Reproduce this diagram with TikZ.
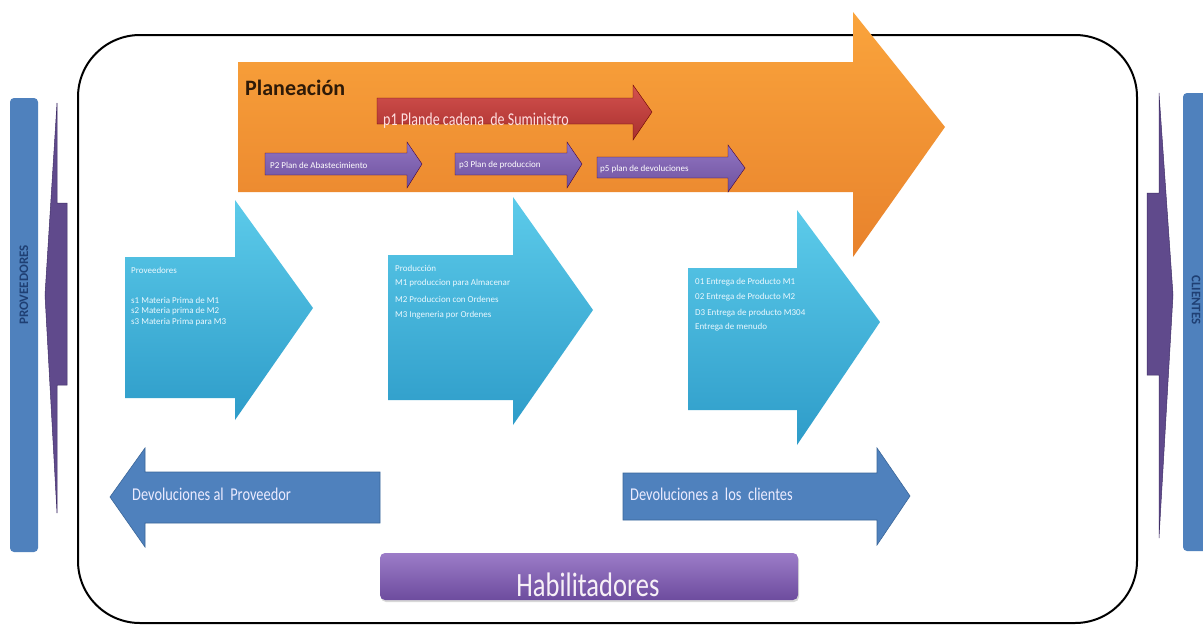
\documentclass[tikz,border=0pt]{standalone}
\usepackage{fontspec}
\setmainfont{Carlito}
\usetikzlibrary{shadows}
\newcommand\squeeze[2]{\scalebox{#1}[1]{#2}}

\definecolor{sideblue}{HTML}{4F81BD}
\definecolor{sideline}{HTML}{3A6699}
\definecolor{sidetext}{HTML}{1F3F73}
\definecolor{sidepurple}{HTML}{604A8C}
\definecolor{sidepurpleline}{HTML}{3F2E66}
\definecolor{orangetop}{HTML}{FAA43C}
\definecolor{orangebot}{HTML}{E8822C}
\definecolor{redtop}{HTML}{D4524F}
\definecolor{redbot}{HTML}{A9302E}
\definecolor{violettop}{HTML}{9175C2}
\definecolor{violetbot}{HTML}{6E519E}
\definecolor{cyantop}{HTML}{5CCBEA}
\definecolor{cyanbot}{HTML}{2E9CC9}
\definecolor{habtop}{HTML}{9C7CC8}
\definecolor{habbot}{HTML}{6D4C9E}
\definecolor{plantext}{HTML}{2E1A08}

\tikzset{
  txt/.style={inner sep=0pt, anchor=west},
  smalltxt/.style={txt, font=\fontsize{9}{10}\selectfont, text=white},
  cyantxt/.style={txt, font=\fontsize{9}{10}\selectfont, text=white!92!cyan},
  orangearrow/.style={top color=orangetop, bottom color=orangebot, draw=none},
  redarrow/.style={top color=redtop, bottom color=redbot, draw=red!40!black, line width=0.4pt},
  violetarrow/.style={top color=violettop, bottom color=violetbot, draw=violet!50!black, line width=0.4pt},
  cyanarrow/.style={top color=cyantop, bottom color=cyanbot, draw=none},
  bluearrow/.style={fill=sideblue, draw=sideline, line width=0.6pt},
  sidebar/.style={fill=sideblue, draw=none, rounded corners=4pt},
  sidearrow/.style={fill=sidepurple, draw=sidepurpleline, line width=0.5pt},
}

\begin{document}
\begin{tikzpicture}[x=1pt,y=-1pt]
  \useasboundingbox (0,0) rectangle (1203,630);
  \fill[white] (0,0) rectangle (1203,630);

  % outer frame of the supply chain
  \draw[line width=2pt, rounded corners=62pt] (78,35) rectangle (1137,623);

  % suppliers side
  \fill[sidebar] (10,98) rectangle (38,552);
  \node[rotate=90, inner sep=0pt, text=sidetext,
        font=\fontsize{13}{14}\bfseries\selectfont] (prov) at (24,285) {PROVEEDORES};
  \filldraw[sidearrow] (45,295) -- (57,103) -- (57,203) -- (67,203)
      -- (67,385) -- (57,385) -- (57,513) -- cycle;

  % customers side
  \fill[sidebar] (1183,93) rectangle (1212,551);
  \node[rotate=-90, inner sep=0pt, text=sidetext,
        font=\fontsize{13}{14}\bfseries\selectfont] (cli) at (1196,300) {CLIENTES};
  \filldraw[sidearrow] (1173,295) -- (1159,93) -- (1159,193) -- (1147,193)
      -- (1147,375) -- (1159,375) -- (1159,538) -- cycle;

  % planning
  \shade[orangearrow] (238,62) -- (853,62) -- (853,12) -- (945,127)
      -- (853,257) -- (853,192) -- (238,192) -- cycle;
  \node[txt, text=plantext, font=\fontsize{22}{24}\bfseries\selectfont] (plan) at (245,88) {Planeación};

  \shade[redarrow] (377,98) -- (633,98) -- (633,85) -- (652,112)
      -- (633,140) -- (633,124) -- (377,124) -- cycle;
  \node[inner sep=0pt, anchor=base west, text=red!12!white,
        font=\fontsize{18}{20}\selectfont] (p1) at (383,125)
        {\squeeze{0.78}{p1 Plande cadena\ \ de Suministro}};

  \shade[violetarrow] (265,153) -- (407,153) -- (407,142) -- (422,164)
      -- (407,188) -- (407,175) -- (265,175) -- cycle;
  \node[smalltxt] (p2) at (270,165) {P2 Plan de Abastecimiento};

  \shade[violetarrow] (455,153) -- (567,153) -- (567,142) -- (582,164)
      -- (567,188) -- (567,175) -- (455,175) -- cycle;
  \node[smalltxt] (p3) at (459,165) {p3 Plan de produccion};

  \shade[violetarrow] (597,157) -- (728,157) -- (728,145) -- (745,168)
      -- (728,192) -- (728,178) -- (597,178) -- cycle;
  \node[smalltxt] (p5) at (600,169) {p5 plan de devoluciones};

  % source
  \shade[cyanarrow] (125,257) -- (235,257) -- (235,200) -- (313,308)
      -- (235,420) -- (235,398) -- (125,398) -- cycle;
  \node[cyantxt] (s0) at (131,270) {Proveedores};
  \node[cyantxt] (s1) at (131,300) {s1 Materia\ Prima\ de\ M1};
  \node[cyantxt] (s2) at (131,311) {s2 Materia\ prima\ de\ M2};
  \node[cyantxt] (s3) at (131,322) {s3 Materia Prima para M3};

  % make
  \shade[cyanarrow] (388,255) -- (513,255) -- (513,197) -- (593,310)
      -- (513,425) -- (513,400) -- (388,400) -- cycle;
  \node[cyantxt] (m0) at (395,268) {Producción};
  \node[cyantxt] (m1) at (395,283) {M1 produccion para Almacenar};
  \node[cyantxt] (m2) at (395,299) {M2 Produccion con Ordenes};
  \node[cyantxt] (m3) at (395,315) {M3 Ingeneria por Ordenes};

  % deliver
  \shade[cyanarrow] (688,268) -- (797,268) -- (797,210) -- (880,322)
      -- (797,445) -- (797,410) -- (688,410) -- cycle;
  \node[cyantxt] (d1) at (695,282) {01 Entrega de Producto M1};
  \node[cyantxt] (d2) at (695,297) {02 Entrega\ de Producto M2};
  \node[cyantxt] (d3) at (695,313) {D3 Entrega de producto M304};
  \node[cyantxt] (d4) at (695,327) {Entrega de menudo};

  % returns
  \filldraw[bluearrow] (110,497) -- (145,448) -- (145,472) -- (380,472)
      -- (380,523) -- (145,523) -- (145,547) -- cycle;
  \node[txt, text=blue!8!white, font=\fontsize{18}{20}\selectfont] (rp) at (132,494)
      {\squeeze{0.8}{Devoluciones al\ \ Proveedor}};

  \filldraw[bluearrow] (623,473) -- (877,473) -- (877,448) -- (910,496)
      -- (877,545) -- (877,520) -- (623,520) -- cycle;
  \node[txt, text=blue!8!white, font=\fontsize{18}{20}\selectfont] (rc) at (630,494)
      {\squeeze{0.8}{Devoluciones a\ \ los\ \ clientes}};

  % enablers
  \shade[top color=habtop, bottom color=habbot, rounded corners=5pt,
         drop shadow={opacity=0.3, shadow xshift=1pt, shadow yshift=-2pt}]
      (380,553) rectangle (798,600);
  \node[inner sep=0pt, anchor=base, text=white!94!violet,
        font=\fontsize{34}{36}\selectfont] (hab) at (588,596)
      {\squeeze{0.78}{Habilitadores}};
\end{tikzpicture}
\end{document}
